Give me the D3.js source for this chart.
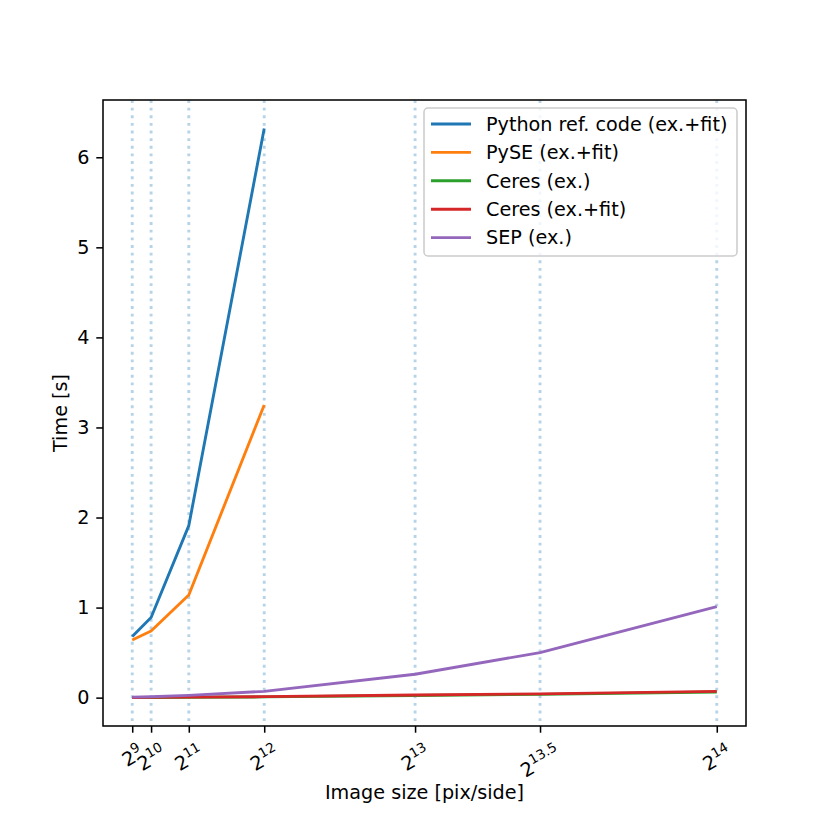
<!DOCTYPE html>
<html>
<head>
<meta charset="utf-8">
<script src="https://cdn.jsdelivr.net/npm/d3@7"></script>
<style>
  body { margin: 0; background: #fff; }
  svg { font-family: "DejaVu Sans", sans-serif; }
</style>
</head>
<body>
<svg id="chart" width="830" height="830"></svg>
<script>
// image sizes (pix/side) and their exponent labels
var sizes = [512, 1024, 2048, 4096, 8192, 11585, 16384]
var exponents = ["9", "10", "11", "12", "13", "13.5", "14"]

// timings in seconds
var pythonRef = [0.68, 0.89, 1.91, 6.32]
var pyse = [0.64, 0.74, 1.14, 3.25]
var ceresEx = [0.001, 0.002, 0.004, 0.008, 0.024, 0.036, 0.062]
var ceresFit = [0.002, 0.003, 0.006, 0.011, 0.029, 0.042, 0.069]
var sepEx = [0.005, 0.01, 0.025, 0.07, 0.26, 0.5, 1.01]

var seriesNames = ["Python ref. code (ex.+fit)", "PySE (ex.+fit)", "Ceres (ex.)", "Ceres (ex.+fit)", "SEP (ex.)"]
var seriesValues = [pythonRef, pyse, ceresEx, ceresFit, sepEx]
var colors = ["#1f77b4", "#ff7f0e", "#2ca02c", "#d62728", "#9467bd"]

// 1pt is about 1.92px in the reference
var pt = 1.92
var fontSize = 10 * pt

var margin = {top: 100, right: 84, bottom: 104, left: 103},
    width = 830 - margin.left - margin.right,
    height = 830 - margin.top - margin.bottom

var svg = d3.select("#chart")
var g = svg.append("g").attr("transform", "translate(" + margin.left + "," + margin.top + ")")

// matplotlib style 5% margins
function padded(ext) {
  var d = (ext[1] - ext[0]) * 0.05
  return [ext[0] - d, ext[1] + d]
}
var allVals = d3.merge(seriesValues)
var x = d3.scaleLinear().domain(padded(d3.extent(sizes))).range([0, width])
var y = d3.scaleLinear().domain(padded(d3.extent(allVals))).range([height, 0])

// dotted guides at each tested size
g.selectAll(".guide")
  .data(sizes)
  .enter().append("line")
    .attr("class", "guide")
    .attr("x1", function(d) { return x(d) }).attr("x2", function(d) { return x(d) })
    .attr("y1", 0).attr("y2", height)
    .attr("stroke", "#b6d3e8")
    .attr("stroke-width", 1.5 * pt)
    .attr("stroke-dasharray", (1.5 * pt) + "," + (1.65 * 1.5 * pt))

var line = d3.line()
  .x(function(d) { return x(d[0]) })
  .y(function(d) { return y(d[1]) })

seriesValues.forEach(function(vals, i) {
  g.append("path")
    .datum(vals.map(function(v, j) { return [sizes[j], v] }))
    .attr("fill", "none")
    .attr("stroke", colors[i])
    .attr("stroke-width", 1.5 * pt)
    .attr("stroke-linejoin", "round")
    .attr("d", line)
})

// frame
g.append("rect")
  .attr("width", width).attr("height", height)
  .attr("fill", "none").attr("stroke", "#000").attr("stroke-width", 0.8 * pt)

// y axis
var yAxis = g.append("g")
  .call(d3.axisLeft(y).tickValues([0, 1, 2, 3, 4, 5, 6]).tickSize(3.5 * pt).tickPadding(3.5 * pt).tickFormat(d3.format("d")))
yAxis.select(".domain").remove()
yAxis.selectAll("line").attr("stroke-width", 0.8 * pt)
yAxis.selectAll("text").attr("font-size", fontSize).attr("font-family", "DejaVu Sans").attr("fill", "#000")

// x axis: ticks only, custom rotated power labels
var xAxis = g.append("g")
  .attr("transform", "translate(0," + height + ")")
  .call(d3.axisBottom(x).tickValues(sizes).tickSize(3.5 * pt).tickFormat(""))
xAxis.select(".domain").remove()
xAxis.selectAll("line").attr("stroke-width", 0.8 * pt)

sizes.forEach(function(s, i) {
  var holder = g.append("g").attr("transform", "translate(" + x(s) + "," + (height + 7 * pt) + ")")
  var inner = holder.append("g")
  var t = inner.append("text")
    .attr("transform", "rotate(-30)")
    .attr("font-size", fontSize)
    .attr("fill", "#000")
  t.append("tspan").text("2")
  t.append("tspan").attr("dy", -0.42 * fontSize).attr("font-size", 0.7 * fontSize).text(exponents[i])
  var bb = inner.node().getBBox()
  inner.attr("transform", "translate(" + (-(bb.x + bb.width / 2)) + "," + (-bb.y) + ")")
})

// axis labels
svg.append("text")
  .attr("x", margin.left + width / 2).attr("y", 799)
  .attr("text-anchor", "middle").attr("font-size", fontSize)
  .text("Image size [pix/side]")

svg.append("text")
  .attr("transform", "translate(67," + (margin.top + height / 2) + ") rotate(-90)")
  .attr("text-anchor", "middle").attr("font-size", fontSize)
  .text("Time [s]")

// legend
var legend = svg.append("g").attr("transform", "translate(424,108)")
legend.append("rect")
  .attr("width", 313).attr("height", 148).attr("rx", 4)
  .attr("fill", "#fff").attr("fill-opacity", 0.8)
  .attr("stroke", "#cccccc").attr("stroke-width", 0.8 * pt)

seriesNames.forEach(function(name, i) {
  var row = legend.append("g").attr("transform", "translate(0," + (16 + i * 28.4) + ")")
  row.append("line")
    .attr("x1", 7).attr("x2", 47)
    .attr("stroke", colors[i]).attr("stroke-width", 1.5 * pt)
  row.append("text")
    .attr("x", 62).attr("dy", "0.35em")
    .attr("font-size", fontSize)
    .text(name)
})
</script>
</body>
</html>
